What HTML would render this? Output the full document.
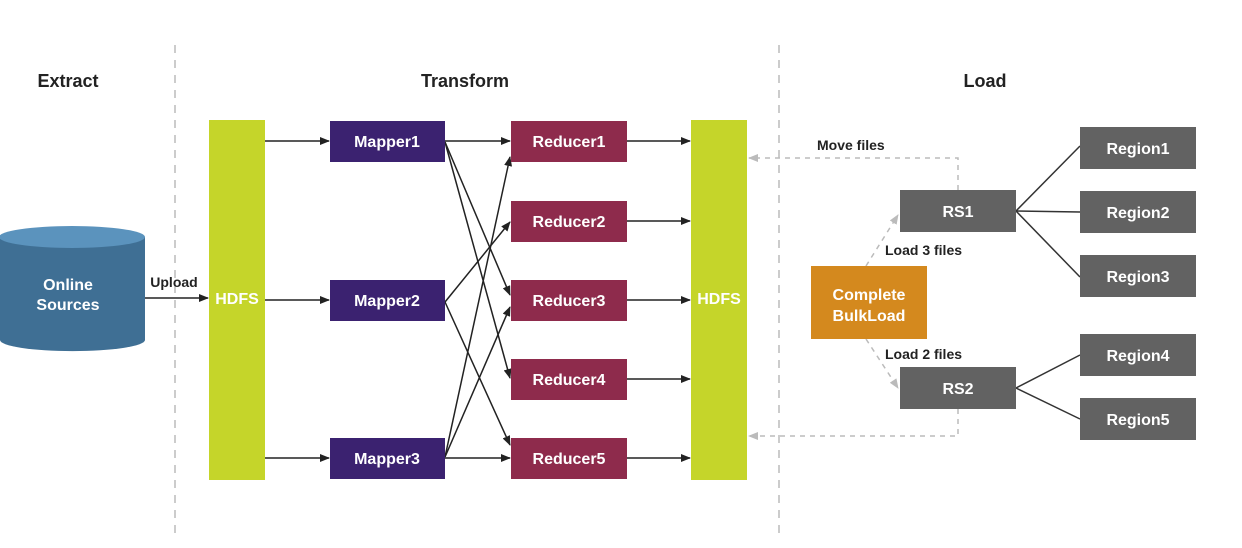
<!DOCTYPE html>
<html><head><meta charset="utf-8"><style>
html,body{margin:0;padding:0;background:#fff;}
svg{display:block;font-family:"Liberation Sans",sans-serif;font-weight:bold;}
</style></head><body>
<svg width="1242" height="548" viewBox="0 0 1242 548" xmlns="http://www.w3.org/2000/svg">
<defs>
<marker id="a" markerWidth="10" markerHeight="8" refX="9" refY="4" orient="auto" markerUnits="userSpaceOnUse"><path d="M0,0 L10,4 L0,8 z" fill="#222"/></marker>
<marker id="g" markerWidth="10" markerHeight="8" refX="9" refY="4" orient="auto" markerUnits="userSpaceOnUse"><path d="M0,0 L10,4 L0,8 z" fill="#bbb"/></marker>
</defs>
<rect width="1242" height="548" fill="#fff"/>
<g stroke="#ccc" stroke-width="2" stroke-dasharray="8,7">
<line x1="175" y1="45" x2="175" y2="540"/>
<line x1="779" y1="45" x2="779" y2="540"/>
</g>
<g font-size="18" fill="#222" text-anchor="middle">
<text x="68" y="87">Extract</text>
<text x="465" y="87">Transform</text>
<text x="985" y="87">Load</text>
</g>
<path d="M0,237 L145,237 L145,340 A72,11 0 0 1 0,340 Z" fill="#3f6f94"/>
<ellipse cx="72" cy="237" rx="73" ry="11" fill="#5b93bd"/>
<g fill="#fff" font-size="16" text-anchor="middle"><text x="68" y="290">Online</text><text x="68" y="310">Sources</text></g>
<line x1="145" y1="298" x2="208" y2="298" stroke="#222" stroke-width="1.5" marker-end="url(#a)"/>
<text x="174" y="287" font-size="14" fill="#222" text-anchor="middle">Upload</text>
<rect x="209" y="120" width="56" height="360" fill="#c5d52a"/>
<rect x="691" y="120" width="56" height="360" fill="#c5d52a"/>
<g fill="#fff" font-size="16" text-anchor="middle"><text x="237" y="304">HDFS</text><text x="719" y="304">HDFS</text></g>
<g stroke="#222" stroke-width="1.5" marker-end="url(#a)">
<line x1="265" y1="141" x2="329" y2="141"/>
<line x1="265" y1="300" x2="329" y2="300"/>
<line x1="265" y1="458" x2="329" y2="458"/>
<line x1="445" y1="141" x2="510" y2="141"/>
<line x1="445" y1="142" x2="510" y2="295"/>
<line x1="445" y1="142" x2="510" y2="378"/>
<line x1="445" y1="302" x2="510" y2="222"/>
<line x1="445" y1="302" x2="510" y2="445"/>
<line x1="445" y1="457" x2="510" y2="157"/>
<line x1="445" y1="457" x2="510" y2="307"/>
<line x1="445" y1="458" x2="510" y2="458"/>
<line x1="627" y1="141" x2="690" y2="141"/>
<line x1="627" y1="221" x2="690" y2="221"/>
<line x1="627" y1="300" x2="690" y2="300"/>
<line x1="627" y1="379" x2="690" y2="379"/>
<line x1="627" y1="458" x2="690" y2="458"/>
</g>
<g fill="#3b2270">
<rect x="330" y="121" width="115" height="41"/><rect x="330" y="280" width="115" height="41"/><rect x="330" y="438" width="115" height="41"/>
</g>
<g fill="#8e2b4c">
<rect x="511" y="121" width="116" height="41"/><rect x="511" y="201" width="116" height="41"/><rect x="511" y="280" width="116" height="41"/><rect x="511" y="359" width="116" height="41"/><rect x="511" y="438" width="116" height="41"/>
</g>
<g fill="#fff" font-size="16" text-anchor="middle">
<text x="387" y="147">Mapper1</text><text x="387" y="306">Mapper2</text><text x="387" y="464">Mapper3</text>
<text x="569" y="147">Reducer1</text><text x="569" y="227">Reducer2</text><text x="569" y="306">Reducer3</text><text x="569" y="385">Reducer4</text><text x="569" y="464">Reducer5</text>
</g>
<g stroke="#bbb" stroke-width="1.5" stroke-dasharray="5,5" fill="none">
<polyline points="958,190 958,158 749,158" marker-end="url(#g)"/>
<polyline points="958,409 958,436 749,436" marker-end="url(#g)"/>
<line x1="866" y1="266" x2="898" y2="215" marker-end="url(#g)"/>
<line x1="866" y1="339" x2="898" y2="388" marker-end="url(#g)"/>
</g>
<g stroke="#333" stroke-width="1.5">
<line x1="1016" y1="211" x2="1080" y2="146"/><line x1="1016" y1="211" x2="1080" y2="212"/><line x1="1016" y1="211" x2="1080" y2="277"/>
<line x1="1016" y1="388" x2="1080" y2="355"/><line x1="1016" y1="388" x2="1080" y2="419"/>
</g>
<rect x="811" y="266" width="116" height="73" fill="#d4891e"/>
<g fill="#626262">
<rect x="900" y="190" width="116" height="42"/><rect x="900" y="367" width="116" height="42"/>
<rect x="1080" y="127" width="116" height="42"/><rect x="1080" y="191" width="116" height="42"/><rect x="1080" y="255" width="116" height="42"/><rect x="1080" y="334" width="116" height="42"/><rect x="1080" y="398" width="116" height="42"/>
</g>
<g fill="#fff" font-size="16" text-anchor="middle">
<text x="869" y="300">Complete</text><text x="869" y="321">BulkLoad</text>
<text x="958" y="217">RS1</text><text x="958" y="394">RS2</text>
<text x="1138" y="154">Region1</text><text x="1138" y="218">Region2</text><text x="1138" y="282">Region3</text><text x="1138" y="361">Region4</text><text x="1138" y="425">Region5</text>
</g>
<g fill="#222" font-size="14">
<text x="817" y="150">Move files</text>
<text x="885" y="255">Load 3 files</text>
<text x="885" y="359">Load 2 files</text>
</g>
</svg>
</body></html>
